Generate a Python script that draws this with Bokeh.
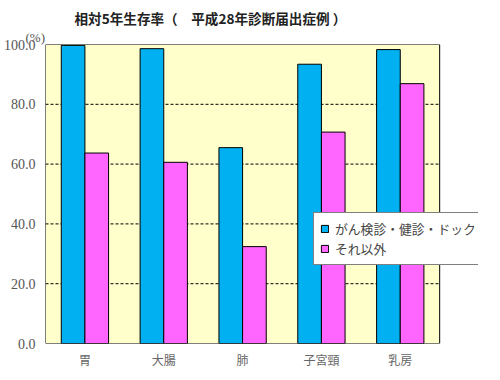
from bokeh.plotting import figure
from bokeh.models import (Range1d, FixedTicker, NumeralTickFormatter, Legend, LegendItem,
                          Title, ColumnDataSource)
from bokeh.embed import file_html
from bokeh.resources import INLINE

categories = ["胃", "大腸", "肺", "子宮頸", "乳房"]
screening = [99.7, 98.6, 65.5, 93.4, 98.3]
other = [63.7, 60.6, 32.4, 70.7, 86.9]
series_names = ["がん検診・健診・ドック", "それ以外"]
y_ticks = [0, 20, 40, 60, 80, 100]
grid_ticks = [20, 40, 60, 80]
title_text = "相対5年生存率（　平成28年診断届出症例 ）"
unit_text = "(%)"

n = len(categories)
centers = [i + 0.5 for i in range(n)]
src = ColumnDataSource(dict(
    cat=categories,
    xb=[c - 0.15 for c in centers],
    xo=[c + 0.15 for c in centers],
    screening=screening, other=other))

# plot area is categories 0..n; frame extends a bit to the right so the legend can overhang
extra = 39.0 / 79.2
p = figure(x_range=Range1d(0, n + extra), y_range=Range1d(0, 100),
           width=484, height=372, output_backend="svg", toolbar_location=None,
           min_border_left=43, min_border_right=6, min_border_top=44, min_border_bottom=29)
p.background_fill_color = "white"
p.border_fill_color = "white"
p.outline_line_color = None
p.xgrid.visible = False
p.ygrid.visible = False

# plot-area panel
p.quad(left=[0], right=[n], bottom=[y_ticks[0]], top=[y_ticks[-1]],
       fill_color="#FFFFCC", line_color=None)
# gridlines
p.segment(x0=[0] * len(grid_ticks), x1=[n] * len(grid_ticks), y0=grid_ticks, y1=grid_ticks,
          line_color="black", line_dash="3 2", line_width=1)

r1 = p.vbar(x="xb", top="screening", width=0.3, source=src,
            fill_color="#00B0F0", line_color="black", line_width=1)
r2 = p.vbar(x="xo", top="other", width=0.3, source=src,
            fill_color="#FF66FF", line_color="black", line_width=1)

# plot-area border
p.quad(left=[0], right=[n], bottom=[y_ticks[0]], top=[y_ticks[-1]],
       fill_color=None, line_color="black", line_width=1)

p.yaxis.ticker = FixedTicker(ticks=y_ticks)
p.yaxis.formatter = NumeralTickFormatter(format="0.0")
p.xaxis.ticker = FixedTicker(ticks=centers)
p.xaxis.major_label_overrides = {c: lab for c, lab in zip(centers, categories)}
for ax in (p.xaxis, p.yaxis):
    ax.axis_line_color = None
    ax.major_tick_line_color = None
    ax.minor_tick_line_color = None
    ax.major_tick_out = 0
    ax.major_tick_in = 0
    ax.minor_tick_out = 0
    ax.minor_tick_in = 0
    ax.axis_label_standoff = 0
p.yaxis.major_label_text_font = "Liberation Serif"
p.yaxis.major_label_text_font_size = "14px"
p.yaxis.major_label_text_color = "#555555"
p.yaxis.major_label_standoff = 10
p.xaxis.major_label_text_font = "Noto Sans CJK JP"
p.xaxis.major_label_text_font_size = "12px"
p.xaxis.major_label_text_color = "#666666"
p.xaxis.major_label_standoff = 7

legend = Legend(items=[LegendItem(label=series_names[0], renderers=[r1]),
                       LegendItem(label=series_names[1], renderers=[r2])],
                location=(268, 78))
legend.border_line_color = "black"
legend.border_line_width = 1
legend.background_fill_color = "white"
legend.background_fill_alpha = 1
legend.label_text_font = "Noto Sans CJK JP"
legend.label_text_font_size = "12.8px"
legend.label_text_color = "#444444"
legend.glyph_width = 9
legend.glyph_height = 9
legend.padding = 6
legend.spacing = 1
legend.label_standoff = 6
legend.label_height = 16
legend.margin = 0
p.add_layout(legend, "center")

p.title.text = title_text
p.title.text_font = "Noto Sans CJK JP"
p.title.text_font_size = "13.6px"
p.title.text_font_style = "bold"
p.title.text_color = "#222222"
p.title.align = "left"
p.title.offset = 29
p.title.standoff = 0

unit = Title(text=unit_text, text_font="Liberation Serif", text_font_size="13px",
             text_font_style="normal", text_color="#555555", align="left",
             offset=-20, standoff=0)
p.add_layout(unit, "above")

open("out.html", "w").write(file_html(p, INLINE))
